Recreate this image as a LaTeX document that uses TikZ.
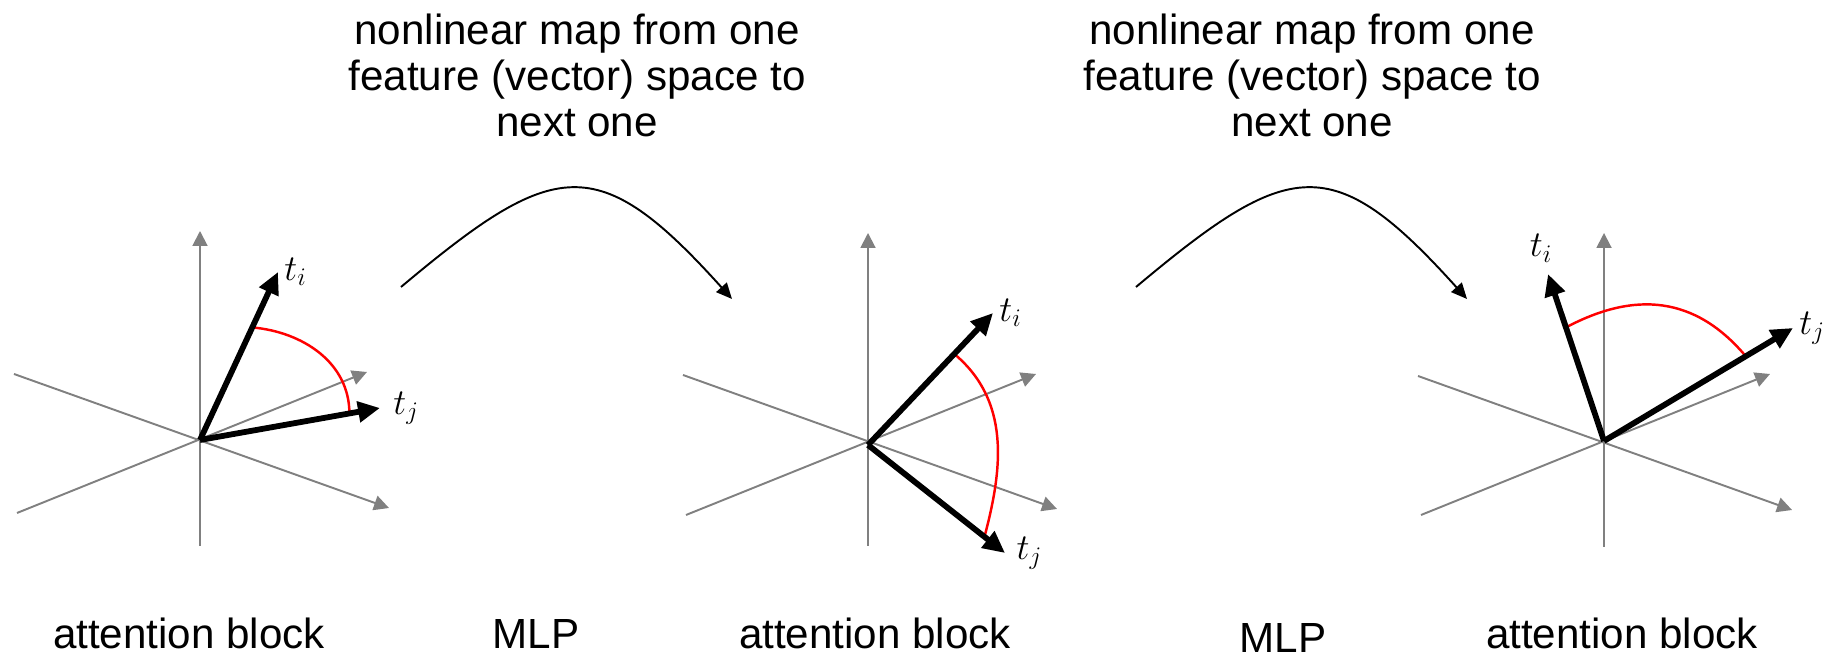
\documentclass[tikz,border=0pt]{standalone}
\usepackage{fontspec}
\setmainfont{Liberation Sans}
\usetikzlibrary{arrows.meta,calc}
\definecolor{axisgray}{gray}{0.5}
\tikzset{
  axis/.style={axisgray,line width=1.1pt,-{Triangle[length=8.5pt,width=8.5pt]}},
  vec/.style={line width=3.3pt,-{Triangle[length=12.5pt,width=11.5pt]}},
  angarc/.style={red,line width=1.4pt},
  mapline/.style={line width=1.1pt,-{Triangle[length=9pt,width=8pt]}},
  vlabel/.style={font=\fontsize{20}{24}\selectfont,inner sep=2pt},
  caption/.style={font=\fontsize{24}{26.2}\selectfont,inner sep=0pt},
}
\begin{document}
\begin{tikzpicture}[x=0.02cm,y=0.02cm]
  \useasboundingbox (0,0) rectangle (1844,661);
  \coordinate (o1) at (200,221);
  \coordinate (o2) at (868,216);
  \coordinate (o3) at (1604,220);
  % first attention block
  \begin{scope}[shift={(o1)}]
    \draw[axis] (0,-106) -- (0,209);
    \draw[axis] (-186,66) -- (189,-68);
    \draw[axis] (-183,-73) -- (167,68);
    \coordinate (ti1) at (78,168);
    \coordinate (tj1) at (180,32);
  \end{scope}
  \draw[angarc] ($(o1)!0.67!(ti1)$) to[out=-5,in=90] ($(o1)!0.83!(tj1)$);
  \draw[vec] (o1) -- (ti1) node[vlabel,right] {$t_i$};
  \draw[vec] (o1) -- (tj1) node[vlabel,right=4pt] {$t_j$};
  % second attention block
  \begin{scope}[shift={(o2)}]
    \draw[axis] (0,-101) -- (0,212);
    \draw[axis] (-185,70) -- (189,-64);
    \draw[axis] (-182,-70) -- (168,71);
    \coordinate (ti2) at (125,132);
    \coordinate (tj2) at (137,-108);
  \end{scope}
  \draw[angarc] ($(o2)!0.69!(ti2)$) to[out=-40,in=75] ($(o2)!0.85!(tj2)$);
  \draw[vec] (o2) -- (ti2) node[vlabel,right] {$t_i$};
  \draw[vec] (o2) -- (tj2) node[vlabel,right=3pt] {$t_j$};
  % third attention block
  \begin{scope}[shift={(o3)}]
    \draw[axis] (0,-106) -- (0,208);
    \draw[axis] (-186,65) -- (188,-69);
    \draw[axis] (-183,-74) -- (166,67);
    \coordinate (ti3) at (-56,167);
    \coordinate (tj3) at (189,113);
  \end{scope}
  \draw[angarc] ($(o3)!0.68!(ti3)$) to[out=28,in=130,looseness=1.1] ($(o3)!0.75!(tj3)$);
  \draw[vec] (o3) -- (ti3) node[vlabel,above=3pt,xshift=-4pt] {$t_i$};
  \draw[vec] (o3) -- (tj3) node[vlabel,right] {$t_j$};
  % maps between the blocks
  \coordinate (map1s) at (401,374);
  \coordinate (map1e) at (732,362);
  \coordinate (map2s) at (1136,374);
  \coordinate (map2e) at (1467,362);
  \draw[mapline] (map1s) to[out=40,in=132,looseness=1.55] (map1e);
  \draw[mapline] (map2s) to[out=40,in=132,looseness=1.55] (map2e);
  \node[caption,align=center,anchor=north] (map1) at (577,647) {nonlinear map from one\\feature (vector) space to\\next one};
  \node[caption,align=center,anchor=north] (map2) at (1312,647) {nonlinear map from one\\feature (vector) space to\\next one};
  \node[caption,anchor=base] (att1) at (189,12) {attention block};
  \node[caption,anchor=base] (mlp1) at (536,12) {MLP};
  \node[caption,anchor=base] (att2) at (875,12) {attention block};
  \node[caption,anchor=base] (mlp2) at (1283,8) {MLP};
  \node[caption,anchor=base] (att3) at (1622,12) {attention block};
\end{tikzpicture}
\end{document}
